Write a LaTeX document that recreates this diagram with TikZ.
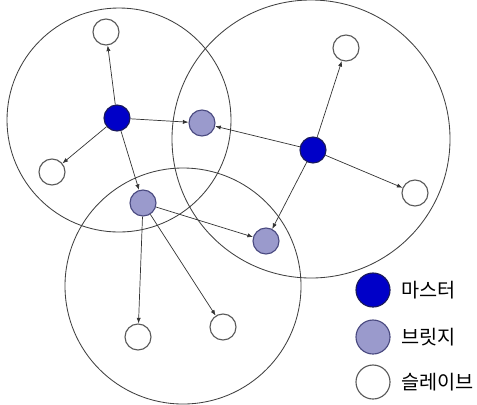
\documentclass[tikz,border=0pt]{standalone}
\usepackage{fontspec}
\newfontfamily\krfont{Noto Sans CJK KR}
\usetikzlibrary{arrows.meta,positioning}
\definecolor{masterfill}{HTML}{0000C8}
\definecolor{masterline}{HTML}{1A1A5A}
\definecolor{bridgefill}{HTML}{9A9ACC}
\definecolor{bridgeline}{HTML}{4A4A80}
\definecolor{rimline}{HTML}{404040}
\definecolor{slaveline}{HTML}{5A5A5A}
\tikzset{
  dot/.style={circle, draw=rimline, fill=white, minimum size=0.65cm, inner sep=0pt, thick},
  bluedot/.style={dot, fill=masterfill, draw=masterline},
  lightdot/.style={dot, fill=bridgefill, draw=bridgeline},
  whitedot/.style={dot, draw=slaveline},
  rim/.style={draw=rimline, line width=0.6pt},
  ar/.style={-{Latex[length=4pt,width=3pt]}, line width=0.5pt, draw=black!80},
  lbl/.style={font=\krfont\fontsize{14}{14}\selectfont, anchor=west}
}
\begin{document}
\begin{tikzpicture}[x=0.025cm, y=-0.025cm]
  \useasboundingbox (0,0) rectangle (477,404);
  % piconet ranges
  \draw[rim] (119,120) circle (112);
  \draw[rim] (311,139) circle (139);
  \draw[rim] (183,286) circle (118);

  % devices
  \node[bluedot]  (m1) at (117,118) {};
  \node[bluedot]  (m2) at (313,150) {};
  \node[lightdot] (b1) at (202,123) {};
  \node[lightdot] (b2) at (143,203) {};
  \node[lightdot] (b3) at (266,241) {};
  \node[whitedot] (s1) at (106,32) {};
  \node[whitedot] (s2) at (52,172) {};
  \node[whitedot] (s3) at (346,48) {};
  \node[whitedot] (s4) at (415,193) {};
  \node[whitedot] (s5) at (138,337) {};
  \node[whitedot] (s6) at (223,327) {};

  \draw[ar] (m1) -- (s1);
  \draw[ar] (m1) -- (s2);
  \draw[ar] (m1) -- (b1);
  \draw[ar] (m1) -- (b2);
  \draw[ar] (m2) -- (b1);
  \draw[ar] (m2) -- (s3);
  \draw[ar] (m2) -- (s4);
  \draw[ar] (m2) -- (b3);
  \draw[ar] (b2) -- (b3);
  \draw[ar] (b2) -- (s5);
  \draw[ar] (b2) -- (s6);

  % legend
  \foreach \y/\sty/\lab/\nm in {290/bluedot/마스터/lm, 337/lightdot/브릿지/lb, 382/whitedot/슬레이브/ls} {
    \node[\sty, minimum size=0.85cm] (\nm) at (373,\y) {};
    \node[lbl, right=0.15cm of \nm] (\nm t) {\lab};
  }
\end{tikzpicture}
\end{document}
